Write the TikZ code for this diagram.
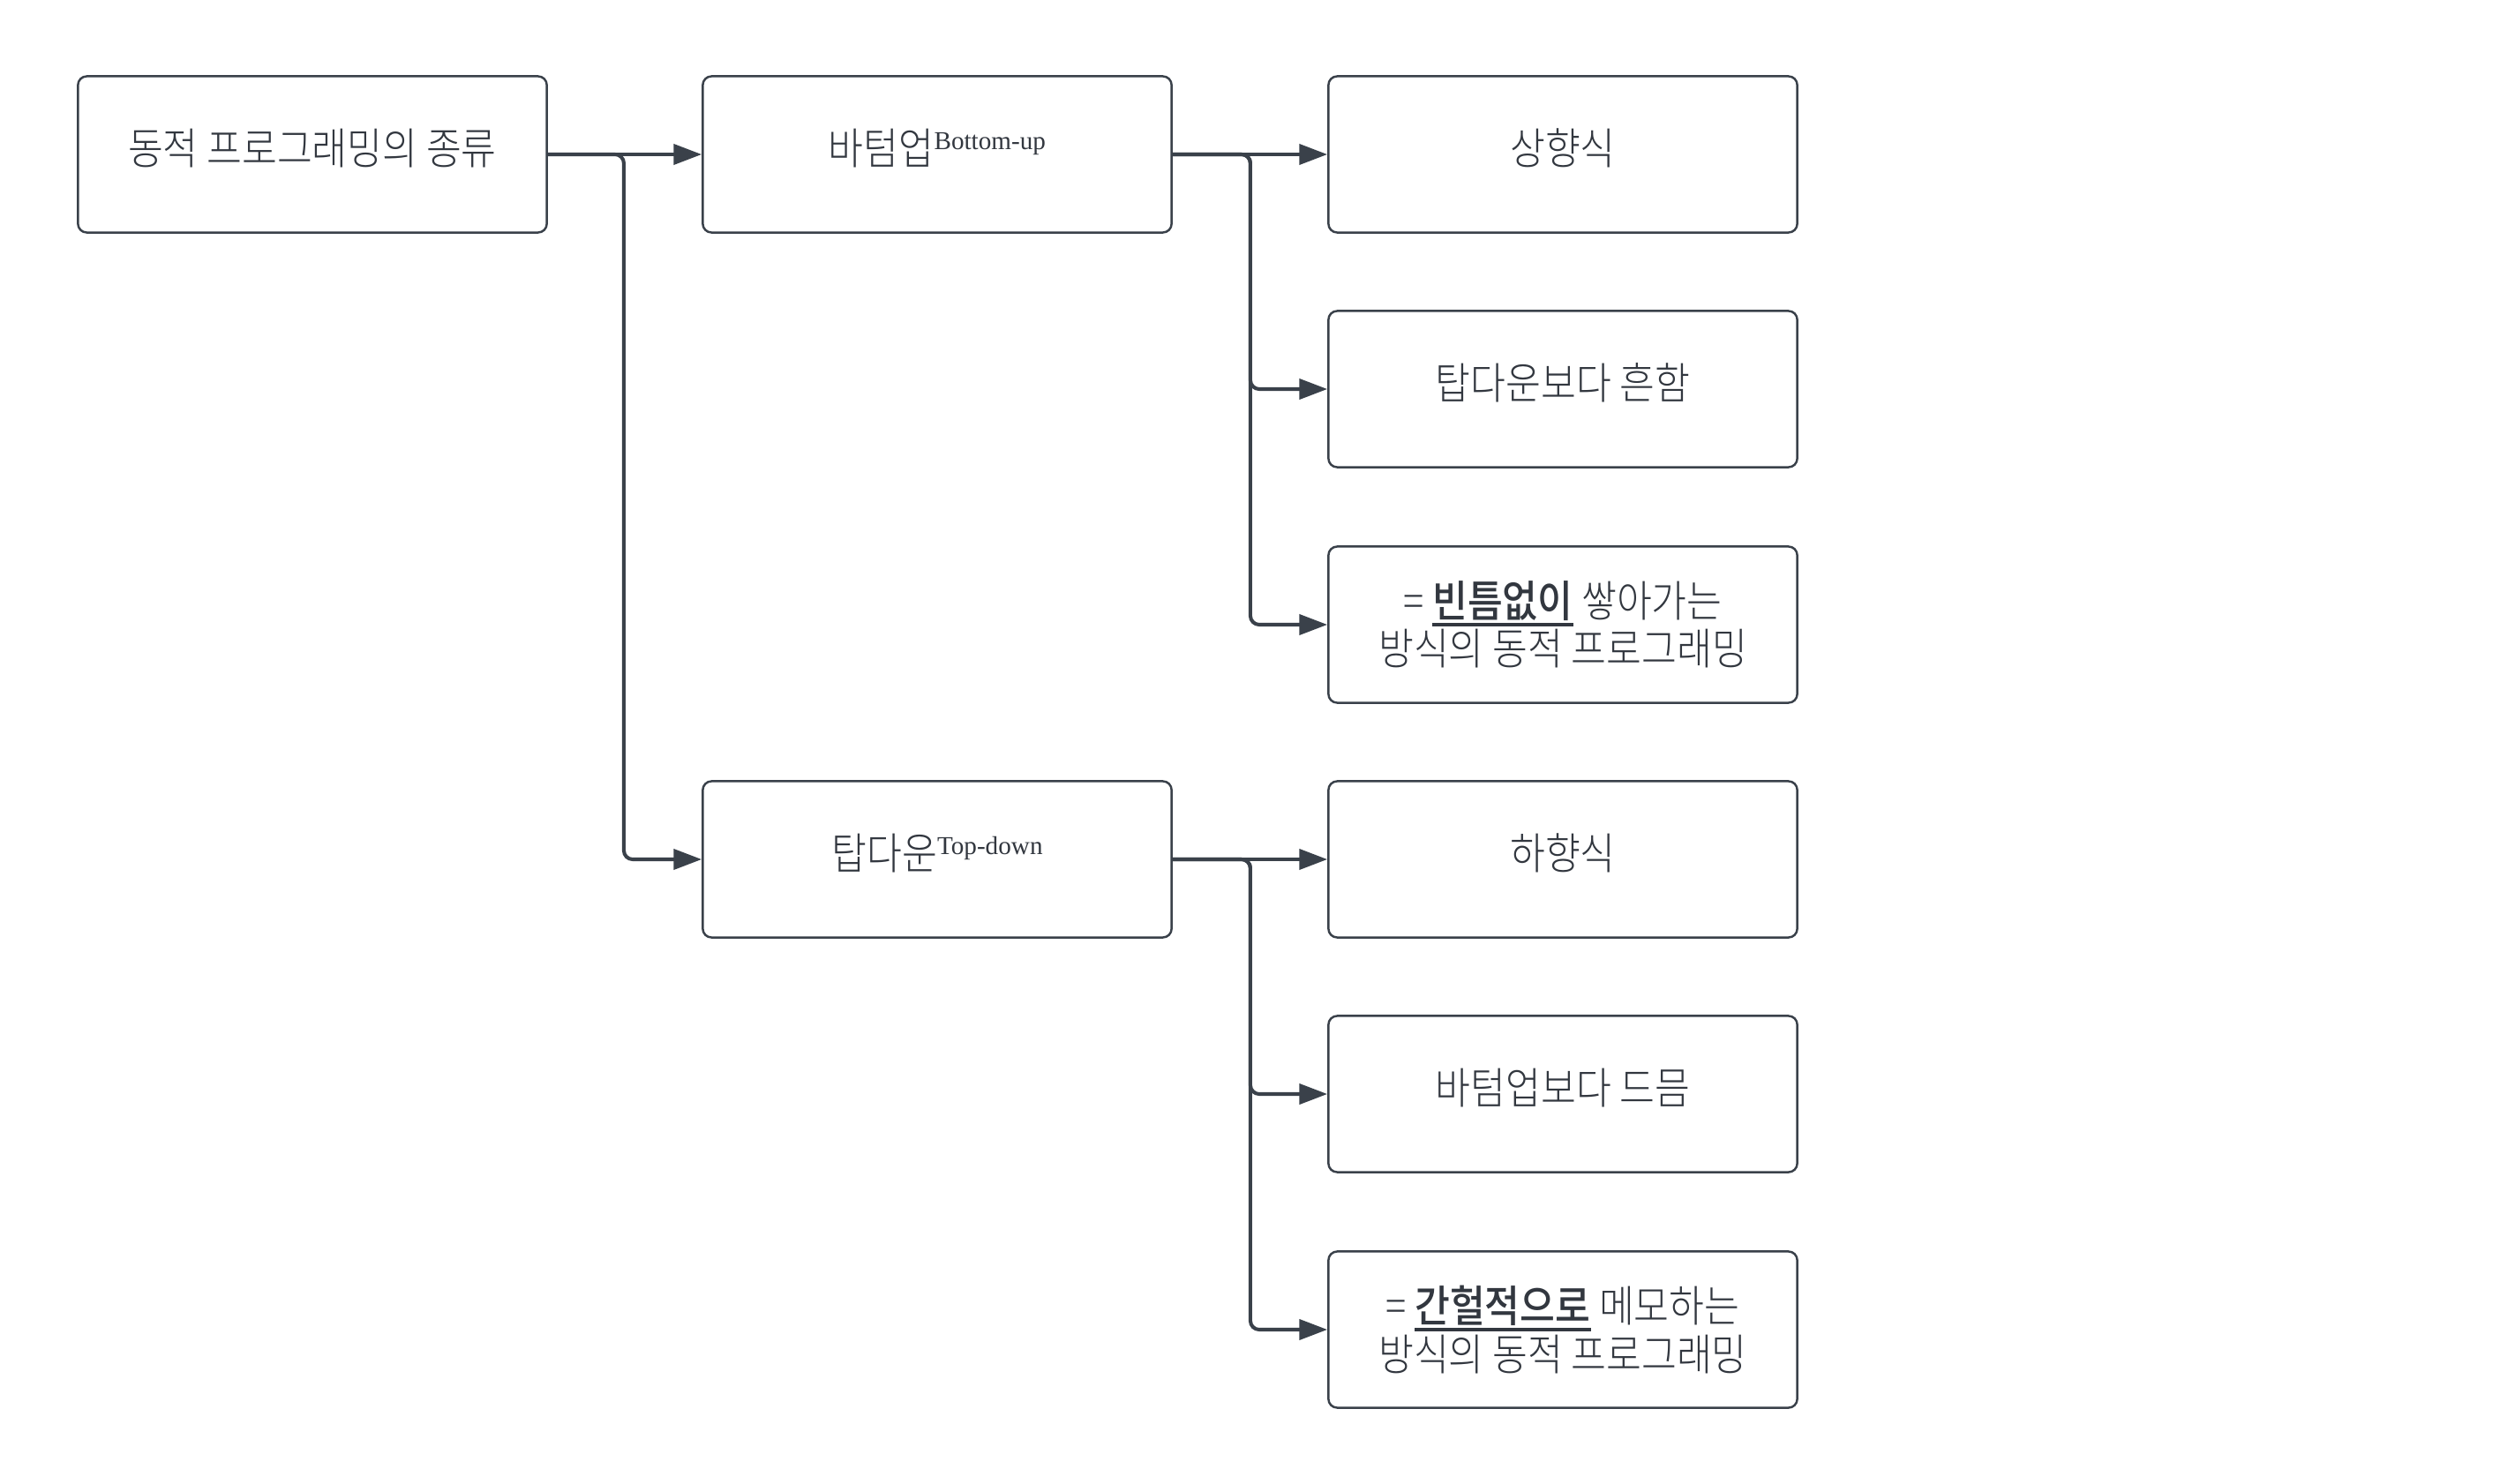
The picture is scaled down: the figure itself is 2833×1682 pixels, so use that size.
\documentclass[tikz,border=0pt]{standalone}
\usepackage{fontspec}
\setmainfont{Noto Sans CJK KR}[UprightFont={* Light}, BoldFont={* Medium}, FakeStretch=0.88]
\newfontfamily\latinserif{Liberation Serif}
\usetikzlibrary{arrows.meta}
\definecolor{linecol}{RGB}{58,65,74}
\definecolor{txtcol}{RGB}{50,55,63}
\newcommand\enlabel[1]{\raisebox{4.8pt}{\fontsize{8.3}{10}\selectfont\latinserif #1}}
\newcommand\ulbold[1]{\setbox0=\hbox{\bfseries #1}\leavevmode\rlap{\copy0}\raisebox{-3pt}{\rule{\wd0}{1.1pt}}}
\tikzset{
  boxbase/.style={draw=linecol, line width=0.7pt, rounded corners=0.1cm, fill=white,
    minimum width=5.31cm, minimum height=1.77cm, inner sep=0pt,
    text=txtcol, font=\fontsize{14}{14}\selectfont},
  box/.style={boxbase, text height=12.3pt, text depth=5.7pt},
  boxtwo/.style={boxbase, align=center},
  conn/.style={draw=linecol, line width=1.15pt, rounded corners=0.1cm,
    -{Triangle[length=9pt,width=6.5pt]}}
}
\begin{document}
\begin{tikzpicture}[x=0.01cm, y=-0.01cm]
\useasboundingbox[fill=white] (0,0) rectangle (2833,1682);
\node[box] (A) at (354,175) {동적 프로그래밍의 종류};
\node[box] (B) at (1062,175) {바텀업\enlabel{Bottom-up}};
\node[box] (T) at (1062,974) {탑다운\enlabel{Top-down}};
\node[box] (B1) at (1771,175) {상향식};
\node[box] (B2) at (1771,441) {탑다운보다 흔함};
\node[boxtwo] (B3) at (1771,708) {= \ulbold{빈틈없이} 쌓아가는\\방식의 동적 프로그래밍};
\node[box] (T1) at (1771,974) {하향식};
\node[box] (T2) at (1771,1240) {바텀업보다 드믐};
\node[boxtwo] (T3) at (1771,1507) {= \ulbold{간헐적으로} 메모하는\\방식의 동적 프로그래밍};
\draw[conn] (A.east) -- (B.west);
\draw[conn] (A.east) -- ([xshift=0.86cm]A.east) |- (T.west);
\draw[conn] (B.east) -- (B1.west);
\draw[conn] (B.east) -- ([xshift=0.88cm]B.east) |- (B2.west);
\draw[conn] (B.east) -- ([xshift=0.88cm]B.east) |- (B3.west);
\draw[conn] (T.east) -- (T1.west);
\draw[conn] (T.east) -- ([xshift=0.88cm]T.east) |- (T2.west);
\draw[conn] (T.east) -- ([xshift=0.88cm]T.east) |- (T3.west);
\end{tikzpicture}
\end{document}
